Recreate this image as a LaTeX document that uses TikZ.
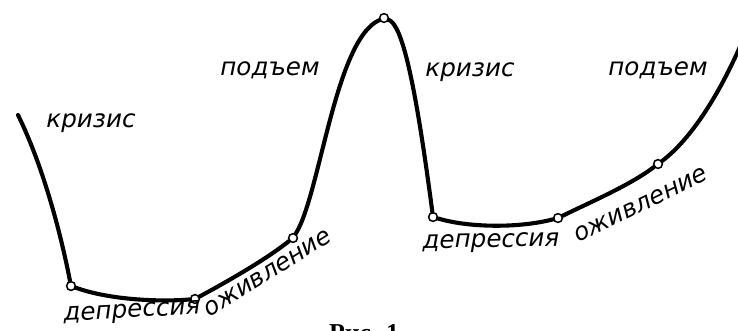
\documentclass[tikz,border=0pt]{standalone}
\usepackage{fontspec}
\newfontfamily\hand{DejaVu Sans}
\newfontfamily\capfont{Liberation Serif}
\usetikzlibrary{positioning}

\tikzset{
  wave/.style={line width=3.5pt, line cap=round},
  knot/.style={circle, draw, line width=1.3pt, fill=white, inner sep=0pt, minimum size=7.5pt},
  phase/.style={font=\hand\itshape\fontsize{21}{21}\selectfont, inner sep=0pt}
}

\begin{document}
\begin{tikzpicture}[x=0.03cm, y=-0.03cm]
    \useasboundingbox (0,0) rectangle (738,330);
    % turning points of the cycle
    \coordinate (start) at (18,115);
    \coordinate (finish) at (745,35);
    \node[knot] (d1) at (71,286) {};
    \node[knot] (o1) at (195,299) {};
    \node[knot] (p1) at (293,238) {};
    \node[knot] (k2) at (384,18) {};
    \node[knot] (d2) at (433,217) {};
    \node[knot] (o2) at (558,218) {};
    \node[knot] (p2) at (658,164) {};
    % the curve
    \draw[wave] (start) .. controls (45,170) and (62,240) .. (d1);
    \draw[wave] (d1) .. controls (110,300) and (160,302) .. (o1);
    \draw[wave] (o1) .. controls (230,280) and (265,260) .. (p1);
    \draw[wave] (p1) .. controls (320,195) and (335,40) .. (k2);
    \draw[wave] (k2) .. controls (402,25) and (415,80) .. (d2);
    \draw[wave] (d2) .. controls (470,228) and (520,228) .. (o2);
    \draw[wave] (o2) .. controls (595,200) and (630,185) .. (p2);
    \draw[wave] (p2) .. controls (690,140) and (720,95) .. (finish);
    % labels
    \node[phase] (kr1) at (91,123) {кризис};
    \node[phase] (pd1) at (270,70) {подъем};
    \node[phase] (kr2) at (470,72) {кризис};
    \node[phase] (pd2) at (658,70) {подъем};
    \node[phase, rotate=3] (dp1) at (132,313) {депрессия};
    \node[phase, rotate=32] (oz1) at (268,273) {оживление};
    \node[phase, rotate=1] (dp2) at (491,243) {депрессия};
    \node[phase, rotate=26] (oz2) at (641,205) {оживление};
    \node[font=\capfont\bfseries\fontsize{22}{22}\selectfont, anchor=north, inner sep=0pt] (cap) at (364,324) {Рис. 1};
  \end{tikzpicture}
\end{document}
